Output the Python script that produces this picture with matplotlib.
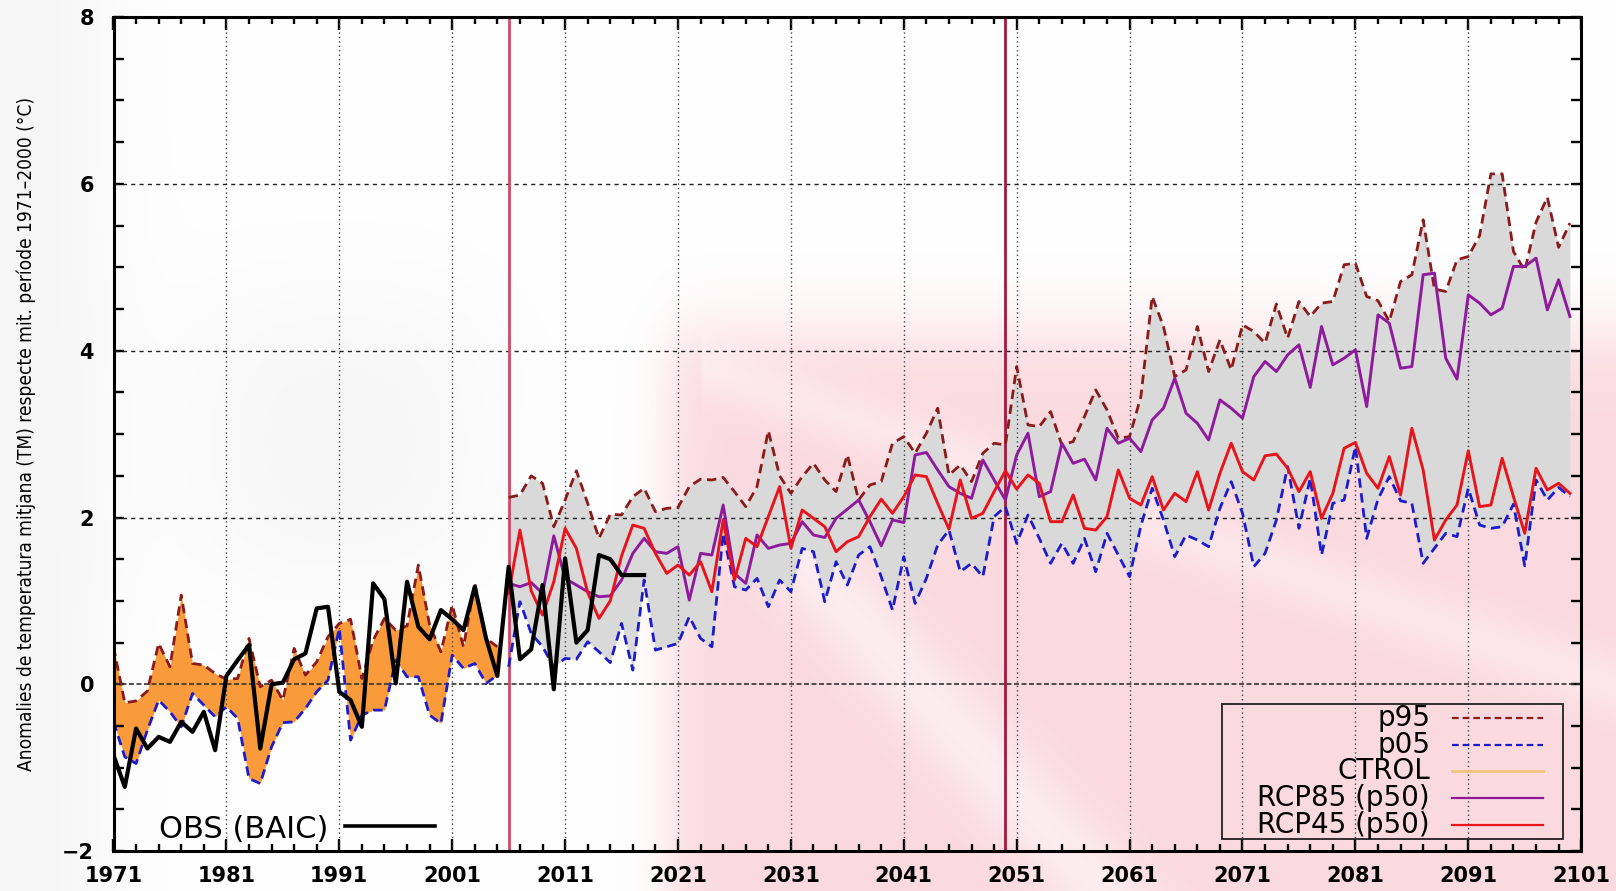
import numpy as np
import matplotlib
matplotlib.use("Agg")
import matplotlib.pyplot as plt
from matplotlib import font_manager
from matplotlib.lines import Line2D
from matplotlib.patches import Rectangle
from matplotlib.ticker import FixedLocator, MultipleLocator

# ---------------- data ----------------
ctrl_years = np.arange(1971, 2006)
ctrl_p95 = [0.45, -0.22, -0.20, -0.08, 0.49, 0.21, 1.07, 0.25, 0.23, 0.13,
            0.06, 0.07, 0.55, -0.03, 0.05, -0.19, 0.43, 0.11, 0.27, 0.57,
            0.73, 0.78, 0.07, 0.53, 0.79, 0.65, 0.70, 1.43, 0.71, 0.39,
            0.95, 0.45, 1.21, 0.55, 0.45]
ctrl_p05 = [-0.45, -0.87, -0.95, -0.55, -0.19, -0.33, -0.51, -0.11, -0.25, -0.39,
            -0.27, -0.41, -1.13, -1.19, -0.75, -0.46, -0.45, -0.29, -0.09, 0.05,
            0.67, -0.67, -0.37, -0.31, -0.31, 0.29, 0.09, 0.09, -0.37, -0.47,
            0.35, 0.19, 0.25, 0.01, 0.11]

scen_years = np.arange(2006, 2101)
scen_p95 = [2.24, 2.27, 2.50, 2.41, 1.89, 2.21, 2.56, 2.17, 1.75, 2.04,
            2.03, 2.25, 2.35, 2.07, 2.11, 2.12, 2.37, 2.46, 2.45, 2.48,
            2.31, 2.13, 2.37, 3.04, 2.50, 2.29, 2.49, 2.65, 2.45, 2.31,
            2.75, 2.21, 2.39, 2.43, 2.89, 2.97, 2.77, 3.01, 3.31, 2.51,
            2.63, 2.43, 2.77, 2.89, 2.87, 3.81, 3.11, 3.09, 3.27, 2.87,
            2.91, 3.21, 3.53, 3.29, 2.95, 2.97, 3.45, 4.65, 4.29, 3.69,
            3.77, 4.29, 3.75, 4.13, 3.77, 4.31, 4.23, 4.09, 4.56, 4.15,
            4.59, 4.41, 4.57, 4.59, 5.03, 5.05, 4.65, 4.60, 4.35, 4.83,
            4.91, 5.57, 4.74, 4.71, 5.09, 5.13, 5.38, 6.12, 6.12, 5.19,
            4.96, 5.54, 5.84, 5.24, 5.53]
scen_p05 = [0.21, 0.99, 0.61, 0.45, 0.21, 0.31, 0.30, 0.51, 0.39, 0.26,
            0.73, 0.17, 1.25, 0.41, 0.45, 0.49, 0.81, 0.55, 0.45, 1.81,
            1.17, 1.13, 1.27, 0.93, 1.25, 1.11, 1.63, 1.59, 0.99, 1.47,
            1.19, 1.55, 1.65, 1.29, 0.89, 1.53, 0.97, 1.27, 1.67, 1.85,
            1.35, 1.45, 1.29, 2.01, 2.13, 1.69, 2.03, 1.75, 1.45, 1.69,
            1.45, 1.75, 1.35, 1.81, 1.55, 1.29, 1.90, 2.35, 1.97, 1.53,
            1.79, 1.73, 1.65, 2.11, 2.43, 2.05, 1.41, 1.57, 1.97, 2.61,
            1.87, 2.47, 1.55, 2.17, 2.21, 2.85, 1.75, 2.22, 2.49, 2.20,
            2.17, 1.45, 1.63, 1.81, 1.77, 2.35, 1.91, 1.87, 1.89, 2.16,
            1.42, 2.45, 2.21, 2.36, 2.25]
rcp85_p50 = [1.21, 1.17, 1.22, 1.09, 1.78, 1.27, 1.19, 1.11, 1.05, 1.06,
             1.25, 1.57, 1.75, 1.59, 1.57, 1.65, 1.01, 1.57, 1.55, 2.15,
             1.33, 1.21, 1.79, 1.63, 1.67, 1.69, 1.95, 1.79, 1.76, 1.99,
             2.10, 2.21, 1.95, 1.66, 1.97, 1.94, 2.75, 2.78, 2.57, 2.37,
             2.29, 2.23, 2.69, 2.45, 2.21, 2.75, 3.01, 2.25, 2.31, 2.89,
             2.65, 2.70, 2.45, 3.07, 2.89, 2.95, 2.79, 3.17, 3.31, 3.67,
             3.25, 3.13, 2.93, 3.41, 3.31, 3.19, 3.69, 3.87, 3.75, 3.95,
             4.07, 3.56, 4.29, 3.83, 3.91, 4.01, 3.33, 4.43, 4.33, 3.79,
             3.81, 4.91, 4.93, 3.91, 3.66, 4.67, 4.57, 4.43, 4.51, 5.01,
             5.01, 5.11, 4.49, 4.85, 4.41]
rcp45_p50 = [1.09, 1.85, 1.12, 0.83, 1.23, 1.87, 1.63, 1.10, 0.79, 1.00,
             1.54, 1.91, 1.87, 1.57, 1.33, 1.43, 1.31, 1.47, 1.11, 1.97,
             1.25, 1.75, 1.65, 2.01, 2.37, 1.63, 2.09, 1.99, 1.89, 1.59,
             1.71, 1.77, 2.01, 2.22, 2.05, 2.25, 2.51, 2.49, 2.17, 1.86,
             2.45, 1.99, 2.05, 2.31, 2.56, 2.34, 2.51, 2.41, 1.95, 1.95,
             2.27, 1.87, 1.85, 2.01, 2.57, 2.23, 2.15, 2.49, 2.09, 2.29,
             2.19, 2.55, 2.09, 2.53, 2.89, 2.55, 2.45, 2.74, 2.76, 2.59,
             2.31, 2.55, 1.99, 2.29, 2.83, 2.90, 2.53, 2.35, 2.73, 2.27,
             3.07, 2.57, 1.73, 1.97, 2.15, 2.80, 2.13, 2.15, 2.71, 2.25,
             1.81, 2.59, 2.33, 2.41, 2.29]

obs_years = np.arange(1971, 2019)
obs_baic = [-0.85, -1.23, -0.53, -0.77, -0.63, -0.69, -0.45, -0.57, -0.33, -0.79,
            0.10, 0.29, 0.47, -0.77, 0.00, 0.02, 0.30, 0.37, 0.91, 0.93,
            -0.09, -0.19, -0.51, 1.21, 1.02, 0.01, 1.23, 0.69, 0.54, 0.89,
            0.78, 0.65, 1.17, 0.55, 0.10, 1.41, 0.30, 0.42, 1.19, -0.06,
            1.51, 0.50, 0.65, 1.55, 1.50, 1.31, 1.31, 1.31]

period_marks = [2006, 2050]
x_ticks = np.arange(1971, 2102, 10)
x_grid = np.arange(1981, 2092, 10)
y_grid = [2, 4, 6]
legend_labels = ["p95", "p05", "CTROL", "RCP85 (p50)", "RCP45 (p50)"]
obs_label = "OBS (BAIC)"
ylabel_text = "Anomalies de temperatura mitjana (TM) respecte mit. període 1971\u20132000 (°C)"

# ---------------- styles ----------------
C_P95 = "#8b1a1a"
C_P05 = "#1c1ccc"
C_CTROL = "#f3c27c"
C_R85 = "#8e1a9c"
C_R45 = "#e8141c"
C_ORANGE = "#f99a3b"
C_GREY = "#d9d9d9"
DASH = (0, (3.4, 2.0))

W, H = 1616, 891
fig = plt.figure(figsize=(W / 100, H / 100), dpi=100)


def fx(px):
    return px / W


def fy(py):
    return 1 - py / H


# faint watermark background
bg = fig.add_axes([0, 0, 1, 1], zorder=-10)
bg.axis("off")
yy, xx = np.mgrid[0:H:3, 0:W:3].astype(float)


def soft(v, a, b, w):
    return 1 / (1 + np.exp(-(v - a) / w)) * 1 / (1 + np.exp((v - b) / w))


pink = 0.25 * soft(xx, 668, 2000, 14) * soft(yy, 330, 2000, 22)
pink *= 1 - 0.5 * np.exp(-((xx - 0.9 * yy - 300) / 55.0) ** 2) * (yy > 500)
pink *= 1 - 0.35 * np.exp(-((yy - 0.35 * xx - 120) / 30.0) ** 2) * (xx > 700)
grey = 0.035 * soft(xx, 200, 480, 40) * soft(yy, 300, 580, 40) + 0.04 * soft(xx, -50, 100, 30)
img = np.ones(pink.shape + (3,))
for c, val in enumerate((0.93, 0.42, 0.50)):
    img[..., c] = 1 - pink * (1 - val) - grey * 1.0
bg.imshow(np.clip(img, 0, 1), extent=[0, W, H, 0], aspect="auto", interpolation="bilinear")
bg.set_xlim(0, W)
bg.set_ylim(H, 0)

ax = fig.add_axes([fx(113.5), fy(851.1), fx(1581.2) - fx(113.5), fy(17.1) - fy(851.1)])
ax.set_facecolor("none")
ax.set_xlim(1971, 2101)
ax.set_ylim(-2, 8)

# bands
ax.fill_between(ctrl_years, ctrl_p05, ctrl_p95, color=C_ORANGE, lw=0, zorder=1)
ax.fill_between(scen_years, scen_p05, scen_p95, color=C_GREY, lw=0, zorder=1)

# grid
for g in x_grid:
    ax.axvline(g, color="#444444", lw=1.0, ls=(0, (1, 2.2)), zorder=2)
for g in y_grid:
    ax.axhline(g, color="#222222", lw=1.0, ls=(0, (3, 3)), zorder=2)
ax.axhline(0, color="#333333", lw=1.2, ls=(0, (3, 1.5)), zorder=2)

# period marks
ax.axvline(period_marks[0], color="#cc4a66", lw=2.0, zorder=3)
ax.axvline(period_marks[1], color="#a3183e", lw=2.0, zorder=3)

# percentile lines
ax.plot(ctrl_years, ctrl_p95, color=C_P95, lw=2.0, ls=DASH, zorder=4)
ax.plot(ctrl_years, ctrl_p05, color=C_P05, lw=2.0, ls=DASH, zorder=4)
ax.plot(scen_years, scen_p95, color=C_P95, lw=2.0, ls=DASH, zorder=4)
ax.plot(scen_years, scen_p05, color=C_P05, lw=2.0, ls=DASH, zorder=4)

# scenario medians
ax.plot(scen_years, rcp85_p50, color=C_R85, lw=2.1, zorder=5)
ax.plot(scen_years, rcp45_p50, color=C_R45, lw=2.1, zorder=6)

# observations
ax.plot(obs_years, obs_baic, color="black", lw=3.0, zorder=7)

# ticks
ax.xaxis.set_major_locator(FixedLocator(x_ticks))
ax.xaxis.set_minor_locator(FixedLocator(np.arange(1971, 2102, 2)))
ax.yaxis.set_major_locator(MultipleLocator(2))
ax.yaxis.set_minor_locator(MultipleLocator(0.5))
ax.tick_params(which="both", direction="in", top=True, right=True, width=1.7, color="black")
ax.tick_params(axis="x", which="major", length=9, pad=11.0)
ax.tick_params(axis="x", which="minor", length=5)
ax.tick_params(axis="y", which="both", length=7, pad=14)
for lab in ax.get_xticklabels() + ax.get_yticklabels():
    lab.set_fontfamily("DejaVu Sans")
    lab.set_fontweight("bold")
    lab.set_fontsize(15)
for sp in ax.spines.values():
    sp.set_linewidth(2.2)
    sp.set_zorder(8)

# y label (narrow font if available)
names = {f.name for f in font_manager.fontManager.ttflist}
if "Liberation Sans Narrow" in names:
    ylab = ax.set_ylabel(ylabel_text, family="Liberation Sans Narrow", fontsize=15.5, va="center")
else:
    ylab = ax.set_ylabel(ylabel_text, family="DejaVu Sans", stretch="condensed", fontsize=13, va="center")
ax.yaxis.set_label_coords((26 - 113.5) / (1581.2 - 113.5), 0.5)
fig.canvas.draw()
bb = ylab.get_window_extent(fig.canvas.get_renderer())
ylab.set_fontsize(ylab.get_fontsize() * 673.0 / bb.height)

# main legend (drawn in figure pixel space)
fig.add_artist(Rectangle((fx(1221.7), fy(839.0)), fx(1563.3) - fx(1221.7), fy(704.3) - fy(839.0),
                         transform=fig.transFigure, fill=False, ec="#222222", lw=1.3, zorder=20))
rows_y = [718.3, 744.6, 771.2, 798.0, 824.8]
styles = [dict(color=C_P95, ls=(0, (3.0, 1.8)), lw=1.6),
          dict(color=C_P05, ls=(0, (3.0, 1.8)), lw=1.6),
          dict(color=C_CTROL, ls="-", lw=2.0),
          dict(color=C_R85, ls="-", lw=1.6),
          dict(color=C_R45, ls="-", lw=1.6)]
for lab, ry, st in zip(legend_labels, rows_y, styles):
    fig.text(fx(1430), fy(ry + 8.0), lab, ha="right", va="baseline",
             family="DejaVu Sans", fontsize=20, zorder=21)
    fig.add_artist(Line2D([fx(1452), fx(1543)], [fy(ry), fy(ry)], transform=fig.transFigure,
                          zorder=21, **st))

# observation legend
fig.text(fx(328), fy(838.5), obs_label, ha="right", va="baseline",
         family="DejaVu Sans", fontsize=22, zorder=21)
fig.add_artist(Line2D([fx(345), fx(435)], [fy(826), fy(826)], transform=fig.transFigure,
                      color="black", lw=2.6, zorder=21))

fig.savefig("out.png", dpi=100)
